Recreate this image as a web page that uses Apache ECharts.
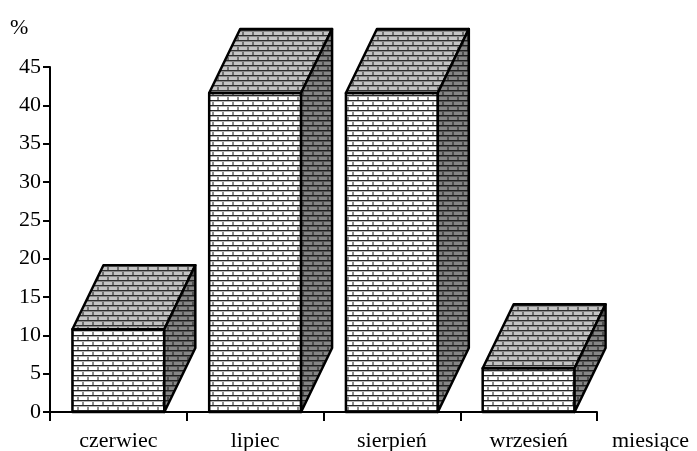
<!DOCTYPE html>
<html>
<head>
<meta charset="utf-8">
<style>
  html, body { margin: 0; padding: 0; background: #fff; }
  #chart { width: 697px; height: 451px; }
</style>
<script src="https://cdn.jsdelivr.net/npm/echarts@6/dist/echarts.min.js"></script>
</head>
<body>
<div id="chart"></div>
<script>
const categories = ["czerwiec", "lipiec", "sierpień", "wrzesień"];
const values = [10.8, 41.6, 41.6, 5.7];
const yTicks = [0, 5, 10, 15, 20, 25, 30, 35, 40, 45];

// brick fill, one tile per face of the box
function brick(bg, line, soft, joint) {
  const c = document.createElement("canvas");
  c.width = 10;
  c.height = 10;
  const ctx = c.getContext("2d");
  ctx.fillStyle = bg;
  ctx.fillRect(0, 0, 10, 10);
  ctx.fillStyle = soft;
  ctx.fillRect(0, 1, 10, 1);
  ctx.fillRect(0, 6, 10, 1);
  ctx.fillStyle = line;
  ctx.fillRect(0, 0, 10, 1);
  ctx.fillRect(0, 5, 10, 1);
  ctx.fillStyle = joint;
  ctx.fillRect(2, 2, 2, 3);
  ctx.fillRect(7, 7, 2, 3);
  return { image: c, repeat: "repeat" };
}

const frontFill = brick("#ffffff", "#262626", "#b4b4b4", "#8c8c8c");
const topFill = brick("#c4c4c4", "#2e2e2e", "#8a8a8a", "#6e6e6e");
const sideFill = brick("#858585", "#1e1e1e", "#555555", "#4d4d4d");

const depthX = 31;
const depthY = 64;
const edge = { stroke: "#000", lineWidth: 2.5, lineJoin: "round" };

function renderBox(params, api) {
  const top = api.coord([api.value(0), api.value(1)]);
  const base = api.coord([api.value(0), 0]);
  const w = api.size([1, 0])[0] * 0.672;
  const x0 = top[0] - w / 2;
  const x1 = top[0] + w / 2;
  const poly = (points, fill) => ({
    type: "polygon",
    shape: { points },
    style: Object.assign({ fill }, edge),
  });
  return {
    type: "group",
    children: [
      poly([[x0, base[1]], [x1, base[1]], [x1, top[1]], [x0, top[1]]], frontFill),
      poly([[x0, top[1]], [x1, top[1]], [x1 + depthX, top[1] - depthY], [x0 + depthX, top[1] - depthY]], topFill),
      poly([[x1, base[1]], [x1 + depthX, base[1] - depthY], [x1 + depthX, top[1] - depthY], [x1, top[1]]], sideFill),
    ],
  };
}

const font = '"Liberation Serif", "Times New Roman", serif';
const labelSize = 22;
const chart = echarts.init(document.getElementById("chart"), null, { renderer: "canvas" });

chart.setOption({
  animation: false,
  backgroundColor: "#fff",
  grid: { left: 50, right: 100, top: 67, bottom: 39, outerBoundsMode: "none" },
  xAxis: {
    type: "category",
    data: categories,
    name: "miesiące",
    nameLocation: "end",
    nameGap: 15,
    nameTextStyle: { color: "#000", fontFamily: font, fontSize: labelSize, verticalAlign: "top", padding: [18, 0, 0, 0] },
    axisLine: { show: true, lineStyle: { color: "#000", width: 2 } },
    axisTick: { show: true, alignWithLabel: false, length: 9, lineStyle: { color: "#000", width: 2 } },
    axisLabel: { color: "#000", fontFamily: font, fontSize: labelSize, margin: 18 },
  },
  yAxis: {
    type: "value",
    min: yTicks[0],
    max: yTicks[yTicks.length - 1],
    interval: yTicks[1] - yTicks[0],
    name: "%",
    nameLocation: "end",
    nameGap: 28,
    nameTextStyle: { color: "#000", fontFamily: font, fontSize: labelSize, align: "left", padding: [0, 0, 0, -40] },
    splitLine: { show: false },
    axisLine: { show: true, lineStyle: { color: "#000", width: 2 } },
    axisTick: { show: true, length: 7, lineStyle: { color: "#000", width: 2 } },
    axisLabel: { color: "#000", fontFamily: font, fontSize: labelSize, margin: 9 },
  },
  series: [
    {
      type: "custom",
      renderItem: renderBox,
      clip: false,
      encode: { x: 0, y: 1 },
      data: values.map((v, i) => [i, v]),
    },
  ],
});
</script>
</body>
</html>
